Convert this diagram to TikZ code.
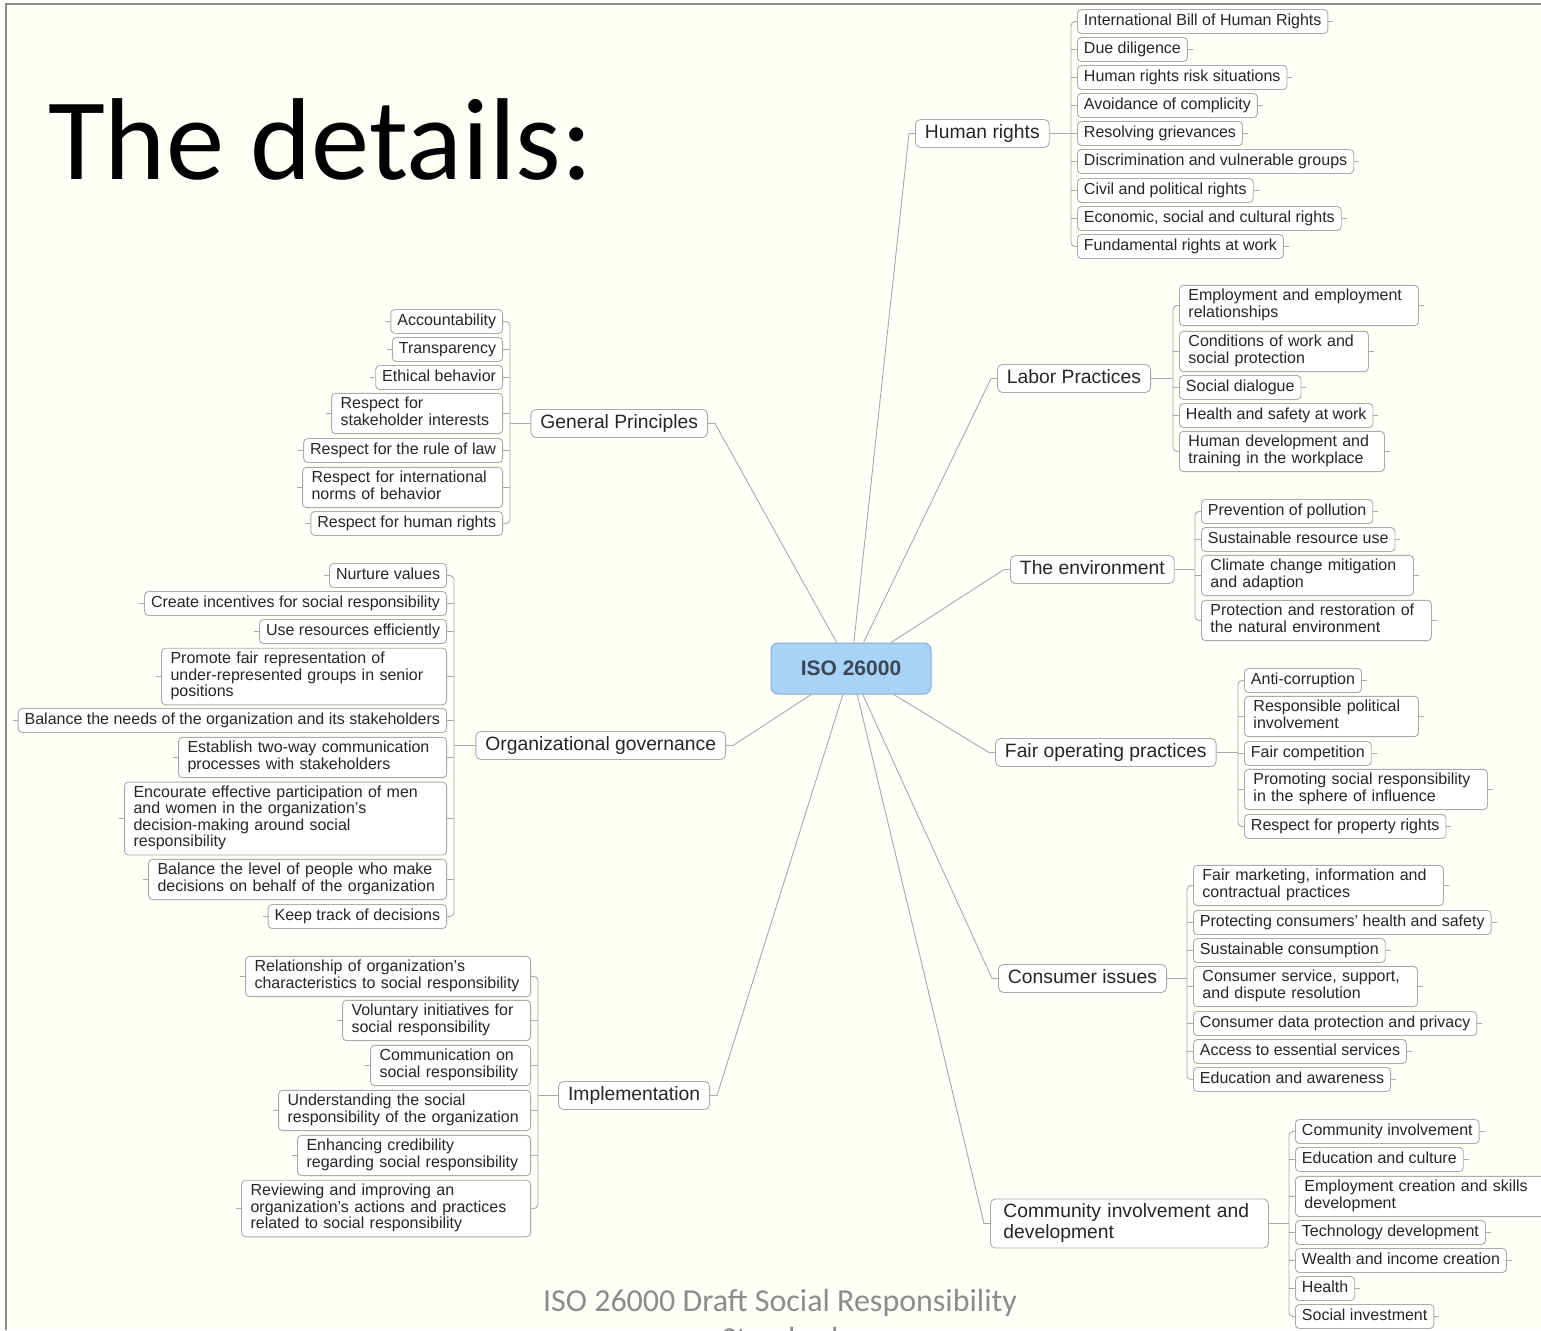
\documentclass[tikz,border=0pt]{standalone}
\usepackage{fontspec}
\setmainfont{Liberation Sans}
\newfontfamily\carlito{Carlito}
\usetikzlibrary{calc}

\definecolor{paper}{HTML}{FFFFF7}
\definecolor{wiregray}{HTML}{A9A9A9}
\definecolor{boxgray}{HTML}{ABABAB}
\definecolor{inkdark}{HTML}{262626}
\definecolor{hubfill}{HTML}{A8D3F8}
\definecolor{hubline}{HTML}{86AED3}
\definecolor{hubtext}{HTML}{3C4754}
\definecolor{framegray}{HTML}{8E8E8E}
\definecolor{footgray}{HTML}{8C8C8C}

\newcommand\leafstrut{\vrule height 11.6pt depth 4.4pt width 0pt}
\newcommand\branchstrut{\vrule height 14pt depth 5pt width 0pt}

\tikzset{
  wire/.style={draw=wiregray, line width=0.9pt},
  leaf/.style={draw=boxgray, fill=white, rounded corners=4pt, line width=0.9pt,
    text=inkdark, font=\fontsize{16}{16.3}\selectfont, align=left,
    inner xsep=6.5pt, inner ysep=4pt,
    execute at begin node=\leafstrut, execute at end node=\leafstrut},
  % multi-line leaf with a fixed text column
  wide/.style={text width=#1, inner xsep=9pt},
  branch/.style={draw=boxgray, fill=white, rounded corners=5pt, line width=0.9pt,
    text=inkdark, font=\fontsize{19.3}{21}\selectfont, align=left,
    inner xsep=9.5pt, inner ysep=4.5pt,
    execute at begin node=\branchstrut, execute at end node=\branchstrut},
  hub/.style={draw=hubline, fill=hubfill, rounded corners=7pt, line width=1pt,
    minimum width=160pt, minimum height=51pt, text=hubtext,
    font=\fontsize{21}{24}\selectfont\bfseries},
}

% leaf on the right-hand side (stub to the right) / left-hand side (stub to the left)
\newcommand\leafR[5][]{\node[leaf,anchor=west,#1] (#2) at (#3,#4) {#5};
  \draw[wire] (#2.east) -- ++(5,0);}
\newcommand\leafL[5][]{\node[leaf,anchor=east,#1] (#2) at (#3,#4) {#5};
  \draw[wire] (#2.west) -- ++(-5,0);}
% bracket joining a column of leaves: first, last, middle ones
\newcommand\bracketR[3]{\draw[wire,rounded corners=4pt] (#1.west) -- ++(-6,0) |- (#2.west);
  \foreach \m in {#3} {\draw[wire] (\m.west) -- ++(-6,0);}}
\newcommand\bracketL[3]{\draw[wire,rounded corners=4pt] (#1.east) -- ++(7,0) |- (#2.east);
  \foreach \m in {#3} {\draw[wire] (\m.east) -- ++(7,0);}}

\begin{document}
\begin{tikzpicture}[x=1pt,y=-1pt]
\useasboundingbox (0,0) rectangle (1541,1330);
\fill[paper] (0,0) rectangle (1541,1330);
\draw[framegray, line width=1.5pt] (6,1330) -- (6,4) -- (1541,4);

% heading and footer
\node[font=\carlito\fontsize{116.5}{116.5}\selectfont, anchor=base west, inner sep=0pt] (title) at (48,179) {The details:};
\node[font=\carlito\fontsize{32}{32}\selectfont, text=footgray, anchor=base] (foot1) at (780,1311) {ISO 26000 Draft Social Responsibility};
\node[font=\carlito\fontsize{32}{32}\selectfont, text=footgray, anchor=base] (foot2) at (780,1349) {Standard};

\begin{scope}[shift={(0,2.5)}]
% central topic
\node[hub] (hub) at (851,666) {ISO 26000};

% main branches
\node[branch,anchor=west] (hr) at (915,131)  {Human rights};
\node[branch,anchor=west] (lp) at (997,376)  {Labor Practices};
\node[branch,anchor=west] (en) at (1010,567) {The environment};
\node[branch,anchor=west] (fo) at (995,750)  {Fair operating practices};
\node[branch,anchor=west] (ci) at (998,976)  {Consumer issues};
\node[branch,anchor=west,text width=252pt,inner xsep=13pt] (cd) at (990,1221) {Community involvement and\\development};
\node[branch,anchor=east] (gp) at (708,421)  {General Principles};
\node[branch,anchor=east] (og) at (726,743)  {Organizational governance};
\node[branch,anchor=east] (im) at (710,1093) {Implementation};

% Human rights
\leafR{hr1}{1077}{19}{International Bill of Human Rights}
\leafR{hr2}{1077}{47}{Due diligence}
\leafR{hr3}{1077}{75}{Human rights risk situations}
\leafR{hr4}{1077}{103}{Avoidance of complicity}
\leafR{hr5}{1077}{131}{Resolving grievances}
\leafR{hr6}{1077}{159}{Discrimination and vulnerable groups}
\leafR{hr7}{1077}{188}{Civil and political rights}
\leafR{hr8}{1077}{216}{Economic, social and cultural rights}
\leafR{hr9}{1077}{244}{Fundamental rights at work}
\bracketR{hr1}{hr9}{hr2,hr3,hr4,hr5,hr6,hr7,hr8}

% Labor practices
\leafR[wide=221pt]{lp1}{1179}{303}{Employment and employment\\relationships}
\leafR[wide=171pt]{lp2}{1179}{349}{Conditions of work and\\social protection}
\leafR{lp3}{1179}{385}{Social dialogue}
\leafR{lp4}{1179}{413}{Health and safety at work}
\leafR[wide=187pt]{lp5}{1179}{449}{Human development and\\training in the workplace}
\bracketR{lp1}{lp5}{lp2,lp3,lp4}

% The environment
\leafR{en1}{1201}{509}{Prevention of pollution}
\leafR{en2}{1201}{537}{Sustainable resource use}
\leafR[wide=194pt]{en3}{1201}{573}{Climate change mitigation\\and adaption}
\leafR[wide=212pt]{en4}{1201}{618}{Protection and restoration of\\the natural environment}
\bracketR{en1}{en4}{en2,en3}

% Fair operating practices
\leafR{fo1}{1244}{678}{Anti-corruption}
\leafR[wide=156pt]{fo2}{1244}{714}{Responsible political\\involvement}
\leafR{fo3}{1244}{751}{Fair competition}
\leafR[wide=225pt]{fo4}{1244}{787}{Promoting social responsibility\\in the sphere of influence}
\leafR{fo5}{1244}{824}{Respect for property rights}
\bracketR{fo1}{fo5}{fo2,fo3,fo4}

% Consumer issues
\leafR[wide=232pt]{ci1}{1193}{883}{Fair marketing, information and\\contractual practices}
\leafR{ci2}{1193}{920}{Protecting consumers' health and safety}
\leafR{ci3}{1193}{948}{Sustainable consumption}
\leafR[wide=206pt]{ci4}{1193}{984}{Consumer service, support,\\and dispute resolution}
\leafR{ci5}{1193}{1021}{Consumer data protection and privacy}
\leafR{ci6}{1193}{1049}{Access to essential services}
\leafR{ci7}{1193}{1077}{Education and awareness}
\bracketR{ci1}{ci7}{ci2,ci3,ci4,ci5,ci6}

% Community involvement and development
\leafR{cd1}{1295}{1129}{Community involvement}
\leafR{cd2}{1295}{1157}{Education and culture}
\leafR[wide=234pt]{cd3}{1295}{1194}{Employment creation and skills\\development}
\leafR{cd4}{1295}{1230}{Technology development}
\leafR{cd5}{1295}{1258}{Wealth and income creation}
\leafR{cd6}{1295}{1286}{Health}
\leafR{cd7}{1295}{1314}{Social investment}
\bracketR{cd1}{cd7}{cd2,cd3,cd4,cd5,cd6}

% General principles
\leafL{gp1}{503}{319}{Accountability}
\leafL{gp2}{503}{347}{Transparency}
\leafL{gp3}{503}{375}{Ethical behavior}
\leafL[wide=153pt]{gp4}{503}{411}{Respect for\\stakeholder interests}
\leafL{gp5}{503}{448}{Respect for the rule of law}
\leafL[wide=182pt]{gp6}{503}{485}{Respect for international\\norms of behavior}
\leafL{gp7}{503}{521}{Respect for human rights}
\bracketL{gp1}{gp7}{gp2,gp3,gp4,gp5,gp6}

% Organizational governance
\leafL{og1}{447}{573}{Nurture values}
\leafL{og2}{447}{601}{Create incentives for social responsibility}
\leafL{og3}{447}{629}{Use resources efficiently}
\leafL[wide=267pt]{og4}{447}{674}{Promote fair representation of\\under-represented groups in senior\\positions}
\leafL{og5}{447}{718}{Balance the needs of the organization and its stakeholders}
\leafL[wide=250pt]{og6}{447}{755}{Establish two-way communication\\processes with stakeholders}
\leafL[wide=304pt]{og7}{447}{816}{Encourate effective participation of men\\and women in the organization's\\decision-making around social\\responsibility}
\leafL[wide=280pt]{og8}{447}{877}{Balance the level of people who make\\decisions on behalf of the organization}
\leafL{og9}{447}{914}{Keep track of decisions}
\bracketL{og1}{og9}{og2,og3,og4,og5,og6,og7,og8}

% Implementation
\leafL[wide=267pt]{im1}{531}{974}{Relationship of organization's\\characteristics to social responsibility}
\leafL[wide=170pt]{im2}{531}{1018}{Voluntary initiatives for\\social responsibility}
\leafL[wide=142pt]{im3}{531}{1063}{Communication on\\social responsibility}
\leafL[wide=234pt]{im4}{531}{1108}{Understanding the social\\responsibility of the organization}
\leafL[wide=215pt]{im5}{531}{1153}{Enhancing credibility\\regarding social responsibility}
\leafL[wide=271pt]{im6}{531}{1206}{Reviewing and improving an\\organization's actions and practices\\related to social responsibility}
\bracketL{im1}{im6}{im2,im3,im4,im5}

% branch to bracket joins
\foreach \b/\f in {hr/hr1,lp/lp1,en/en1,fo/fo1,ci/ci1,cd/cd1} {
  \coordinate (\b B) at ($(\f.west)+(-6,0)$);
  \draw[wire] (\b.east) -- (\b B |- \b.east);
}
\foreach \b/\f in {gp/gp1,og/og1,im/im1} {
  \coordinate (\b B) at ($(\f.east)+(7,0)$);
  \draw[wire] (\b.west) -- (\b B |- \b.west);
}

% hub to branches
\foreach \b in {hr,lp,en,fo,ci,cd} {
  \coordinate (\b In) at ($(\b.west)+(-6,0)$);
  \draw[wire] (hub) -- (\b In) -- (\b.west);
}
\foreach \b in {gp,og,im} {
  \coordinate (\b In) at ($(\b.east)+(7,0)$);
  \draw[wire] (hub) -- (\b In) -- (\b.east);
}
\end{scope}
\end{tikzpicture}
\end{document}
